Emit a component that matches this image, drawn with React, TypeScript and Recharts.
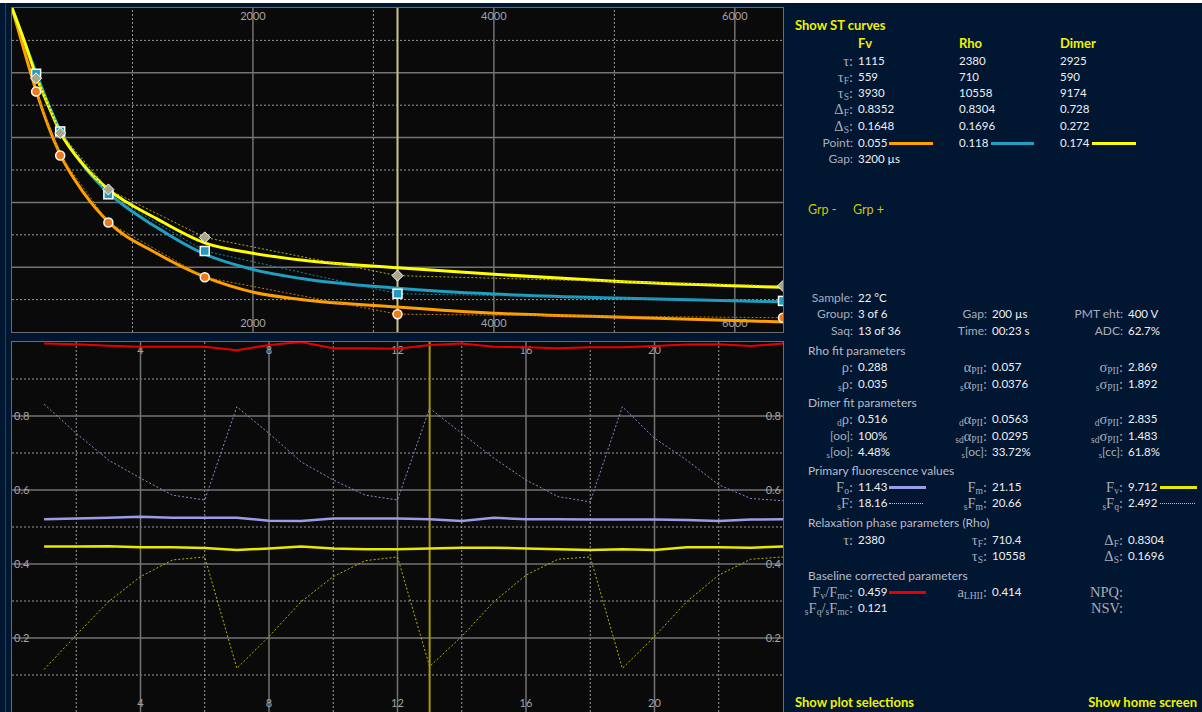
import React from "react";
import { LineChart, Line, XAxis, YAxis, ReferenceLine } from "recharts";

// ---- top chart: single-turnover relaxation curves ----
const fitX = [0, 100, 200, 300, 400, 600, 800, 1200, 1600, 2000, 2400, 3200, 4000, 5000, 6400];
const fvFit = [1.0, 0.87, 0.745, 0.637, 0.548, 0.427, 0.34, 0.243, 0.17, 0.123, 0.1, 0.077, 0.058, 0.046, 0.031];
const rhoFit = [1.0, 0.9, 0.8, 0.705, 0.622, 0.51, 0.43, 0.323, 0.24, 0.193, 0.165, 0.135, 0.117, 0.105, 0.093];
const dimerFit = [1.0, 0.9, 0.79, 0.7, 0.617, 0.513, 0.44, 0.35, 0.275, 0.243, 0.222, 0.198, 0.178, 0.157, 0.138];

const ptX = [200, 400, 800, 1600, 3200, 6400];
const fvPts = [0.742, 0.545, 0.338, 0.169, 0.055, 0.044];
const rhoPts = [0.797, 0.619, 0.425, 0.25, 0.118, 0.096];
const dimerPts = [0.783, 0.614, 0.44, 0.292, 0.174, 0.142];

const topTicks = [2000, 4000, 6000];
const topMinorX = [1000, 3000, 5000];
const topCursor = 3200;

// ---- bottom chart: per-acquisition values ----
const acq = [1, 2, 3, 4, 5, 6, 7, 8, 9, 10, 11, 12, 13, 14, 15, 16, 17, 18, 19, 20, 21, 22, 23, 24];
const fvFm = [0.996, 0.994, 0.99, 0.987, 0.987, 0.987, 0.978, 0.992, 1.0, 0.983, 0.983, 0.982, 0.992, 0.996, 0.987, 0.986, 0.983, 0.986, 0.986, 0.989, 0.993, 0.994, 0.989, 0.996];
const fo = [0.521, 0.523, 0.525, 0.528, 0.525, 0.525, 0.525, 0.517, 0.516, 0.523, 0.523, 0.523, 0.521, 0.516, 0.525, 0.521, 0.521, 0.52, 0.52, 0.52, 0.519, 0.516, 0.52, 0.521];
const fv = [0.447, 0.447, 0.448, 0.445, 0.445, 0.443, 0.438, 0.442, 0.447, 0.442, 0.44, 0.44, 0.442, 0.444, 0.444, 0.442, 0.44, 0.438, 0.44, 0.438, 0.445, 0.445, 0.444, 0.447];
const sF = [0.832, 0.753, 0.681, 0.632, 0.586, 0.573, 0.825, 0.753, 0.676, 0.627, 0.586, 0.573, 0.821, 0.753, 0.686, 0.627, 0.582, 0.568, 0.825, 0.74, 0.681, 0.614, 0.577, 0.571];
const sFq = [0.115, 0.208, 0.298, 0.366, 0.411, 0.419, 0.118, 0.204, 0.298, 0.366, 0.409, 0.419, 0.123, 0.204, 0.298, 0.37, 0.413, 0.419, 0.118, 0.204, 0.298, 0.37, 0.413, 0.419];

const botTicks = [4, 8, 12, 16, 20];
const botMinorX = [2, 6, 10, 14, 18, 22];
const botCursor = 13;

const majorY = [0.2, 0.4, 0.6, 0.8];
const minorY = [0.1, 0.3, 0.5, 0.7, 0.9];

const fitData = fitX.map((x, i) => ({ x, fv: fvFit[i], rho: rhoFit[i], dimer: dimerFit[i] }));
const ptData = ptX.map((x, i) => ({ x, fv: fvPts[i], rho: rhoPts[i], dimer: dimerPts[i] }));
const botData = acq.map((x, i) => ({ x, fvFm: fvFm[i], fo: fo[i], fv: fv[i], sF: sF[i], sFq: sFq[i] }));

const W = 1202;
const NAVY = "#011631";
const PLOT_BG = "#0a0a0a";
const MAJOR = "#737373";
const MINOR = "#9a9a9a";
const TICK = "#a4a4a4";
const SANS = "Lato, 'Open Sans', sans-serif";
const SERIF = "'Liberation Serif', 'DejaVu Serif', serif";
const LBL = "#a6aebb";
const VAL = "#eef0f4";
const HEAD = "#b6bcc8";
const YEL = "#f0f000";

const TOP_W = 771, TOP_H = 324;
const BOT_W = 771, BOT_H = 370;

// tick label drawn at the top and the bottom edge of a vertical grid line
const xLabel = (value: number, h: number) => (p: any) => {
  const vb = p.viewBox || {};
  const x = vb.x ?? 0;
  return (
    <g>
      <text x={x} y={12} textAnchor="middle" fill={TICK} fontSize={11} fontFamily={SANS}>{value}</text>
      <text x={x} y={h - 5} textAnchor="middle" fill={TICK} fontSize={11} fontFamily={SANS}>{value}</text>
    </g>
  );
};

// tick label drawn at the left and the right edge of a horizontal grid line
const yLabel = (value: number, w: number) => (p: any) => {
  const vb = p.viewBox || {};
  const y = vb.y ?? 0;
  return (
    <g>
      <text x={2} y={y + 4} textAnchor="start" fill={TICK} fontSize={11} fontFamily={SANS}>{value}</text>
      <text x={w - 2} y={y + 4} textAnchor="end" fill={TICK} fontSize={11} fontFamily={SANS}>{value}</text>
    </g>
  );
};

const CircleDot = (p: any) => (
  <circle key={`c-${p.index}`} cx={p.cx} cy={p.cy} r={4.5} fill="#f07a1a" stroke="#ffffff" strokeWidth={1.5} />
);
const SquareDot = (p: any) => (
  <rect key={`s-${p.index}`} x={p.cx - 4.5} y={p.cy - 4.5} width={9} height={9} fill="#1f9cbc" stroke="#ffffff" strokeWidth={1.5} />
);
const DiamondDot = (p: any) => (
  <path key={`d-${p.index}`} d={`M${p.cx},${p.cy - 5.5}L${p.cx + 5.5},${p.cy}L${p.cx},${p.cy + 5.5}L${p.cx - 5.5},${p.cy}Z`} fill="#a8a78c" stroke="#ffffff" strokeWidth={1} />
);

function grid(majX: number[], minX: number[], w: number, h: number, yLabels: boolean) {
  return [
    ...minorY.map((v) => <ReferenceLine key={`my${v}`} y={v} stroke={MINOR} strokeDasharray="2 2" strokeWidth={1} />),
    ...minX.map((v) => <ReferenceLine key={`mx${v}`} x={v} stroke={MINOR} strokeDasharray="2 2" strokeWidth={1} />),
    ...majorY.map((v) => (
      <ReferenceLine key={`Y${v}`} y={v} stroke={MAJOR} strokeWidth={1.5} label={yLabels ? yLabel(v, w) : undefined} />
    )),
    ...majX.map((v) => <ReferenceLine key={`X${v}`} x={v} stroke={MAJOR} strokeWidth={1.5} label={xLabel(v, h)} />),
  ];
}

function Txt({ x, y, end, color = VAL, size = 11.5, bold, font = SANS, children }: any) {
  const style: React.CSSProperties = {
    position: "absolute", top: y - 9, height: 18, lineHeight: "18px", fontFamily: font,
    fontSize: size, fontWeight: bold ? 700 : 400, color, whiteSpace: "nowrap",
  };
  if (end) style.right = W - x;
  else style.left = x;
  return <div style={style}>{children}</div>;
}

const Sub = ({ children }: any) => (
  <span style={{ fontSize: "0.66em", position: "relative", top: "0.25em" }}>{children}</span>
);

const L = ({ x, y, serif, children }: any) => (
  <Txt x={x} y={y} end color={LBL} font={serif ? SERIF : SANS} size={serif ? 14.5 : 12}>{children}</Txt>
);

function Swatch({ x1, x2, y, color, dotted }: any) {
  return (
    <div style={{
      position: "absolute", left: x1, top: dotted ? y : y - 1.5, width: x2 - x1,
      height: dotted ? 0 : 3, background: dotted ? "none" : color,
      borderTop: dotted ? `1px dotted ${color}` : "none",
    }} />
  );
}

const C1 = 853, V1 = 858, C2 = 987, V2 = 992, C3 = 1123, V3 = 1128;

export default function App() {
  const rows = [61, 77, 93, 109, 126, 143, 159];
  return (
    <div style={{ position: "absolute", left: 0, top: 0, width: W, height: 712, background: NAVY, overflow: "hidden" }}>
      <div style={{ position: "absolute", left: 0, top: 0, width: W, height: 3, background: "#ffffff" }} />
      <div style={{ position: "absolute", left: 5, top: 3, width: 1, height: 709, background: "#2b3d58" }} />

      {/* top plot */}
      <div style={{ position: "absolute", left: 11, top: 7, width: TOP_W, height: TOP_H, border: "1px solid #6c6c6c", background: PLOT_BG }}>
        <LineChart width={TOP_W} height={TOP_H} margin={{ top: 0, right: 0, bottom: 0, left: 0 }}>
          <XAxis dataKey="x" type="number" domain={[0, 6400]} hide />
          <YAxis type="number" domain={[0, 1]} hide />
          {grid(topTicks, topMinorX, TOP_W, TOP_H, false)}
          <ReferenceLine x={topCursor} stroke="#c9c38f" strokeWidth={2} />
          <Line data={fitData} dataKey="fv" type="monotone" stroke="#ffa000" strokeWidth={3} dot={false} activeDot={false} isAnimationActive={false} />
          <Line data={fitData} dataKey="rho" type="monotone" stroke="#1fa0c2" strokeWidth={3} dot={false} activeDot={false} isAnimationActive={false} />
          <Line data={fitData} dataKey="dimer" type="monotone" stroke="#ffff00" strokeWidth={3} dot={false} activeDot={false} isAnimationActive={false} />
          <Line data={ptData} dataKey="fv" type="linear" stroke="#c07812" strokeWidth={1} strokeDasharray="2 2" dot={CircleDot} activeDot={false} isAnimationActive={false} />
          <Line data={ptData} dataKey="rho" type="linear" stroke="#1a86a4" strokeWidth={1} strokeDasharray="2 2" dot={SquareDot} activeDot={false} isAnimationActive={false} />
          <Line data={ptData} dataKey="dimer" type="linear" stroke="#b0a820" strokeWidth={1} strokeDasharray="2 2" dot={DiamondDot} activeDot={false} isAnimationActive={false} />
        </LineChart>
      </div>

      {/* bottom plot */}
      <div style={{ position: "absolute", left: 11, top: 341, width: BOT_W, height: BOT_H + 2, border: "1px solid #6c6c6c", background: PLOT_BG }}>
        <LineChart width={BOT_W} height={BOT_H} margin={{ top: 0, right: 0, bottom: 0, left: 0 }}>
          <XAxis dataKey="x" type="number" domain={[0, 24]} hide />
          <YAxis type="number" domain={[0, 1]} hide />
          {grid(botTicks, botMinorX, BOT_W, BOT_H, true)}
          <ReferenceLine x={botCursor} stroke="#a89a00" strokeWidth={2} />
          <Line data={botData} dataKey="sF" type="linear" stroke="#8a8acc" strokeWidth={1} strokeDasharray="2 2" dot={false} activeDot={false} isAnimationActive={false} />
          <Line data={botData} dataKey="sFq" type="linear" stroke="#b8b400" strokeWidth={1} strokeDasharray="2 2" dot={false} activeDot={false} isAnimationActive={false} />
          <Line data={botData} dataKey="fo" type="linear" stroke="#9c9ce8" strokeWidth={2.5} dot={false} activeDot={false} isAnimationActive={false} />
          <Line data={botData} dataKey="fv" type="linear" stroke="#e8e800" strokeWidth={2.5} dot={false} activeDot={false} isAnimationActive={false} />
          <Line data={botData} dataKey="fvFm" type="linear" stroke="#e80000" strokeWidth={2} dot={false} activeDot={false} isAnimationActive={false} />
        </LineChart>
      </div>

      {/* right panel: ST curves */}
      <Txt x={795} y={25} color={YEL} bold size={13}>Show ST curves</Txt>
      <Txt x={858} y={43} color={YEL} bold size={13}>Fv</Txt>
      <Txt x={959} y={43} color={YEL} bold size={13}>Rho</Txt>
      <Txt x={1060} y={43} color={YEL} bold size={13}>Dimer</Txt>

      <L x={C1} y={rows[0]} serif>τ:</L>
      <L x={C1} y={rows[1]} serif>τ<Sub>F</Sub>:</L>
      <L x={C1} y={rows[2]} serif>τ<Sub>S</Sub>:</L>
      <L x={C1} y={rows[3]} serif>Δ<Sub>F</Sub>:</L>
      <L x={C1} y={rows[4]} serif>Δ<Sub>S</Sub>:</L>
      <L x={C1} y={rows[5]}>Point:</L>
      <L x={C1} y={rows[6]}>Gap:</L>

      {["1115", "559", "3930", "0.8352", "0.1648", "0.055"].map((v, i) => <Txt key={`a${i}`} x={V1} y={rows[i]}>{v}</Txt>)}
      {["2380", "710", "10558", "0.8304", "0.1696", "0.118"].map((v, i) => <Txt key={`b${i}`} x={959} y={rows[i]}>{v}</Txt>)}
      {["2925", "590", "9174", "0.728", "0.272", "0.174"].map((v, i) => <Txt key={`c${i}`} x={1060} y={rows[i]}>{v}</Txt>)}
      <Txt x={V1} y={rows[6]}>3200 µs</Txt>
      <Swatch x1={889} x2={933} y={143} color="#ffa000" />
      <Swatch x1={991} x2={1034} y={143} color="#1fa0c2" />
      <Swatch x1={1092} x2={1136} y={143} color="#ffff00" />

      <Txt x={808} y={210} color="#c8c800" size={12.5}>Grp -</Txt>
      <Txt x={853} y={210} color="#c8c800" size={12.5}>Grp +</Txt>

      {/* sample info */}
      <L x={C1} y={298}>Sample:</L><Txt x={V1} y={298}>22 °C</Txt>
      <L x={C1} y={314}>Group:</L><Txt x={V1} y={314}>3 of 6</Txt>
      <L x={C2} y={314}>Gap:</L><Txt x={V2} y={314}>200 µs</Txt>
      <L x={C3} y={314}>PMT eht:</L><Txt x={V3} y={314}>400 V</Txt>
      <L x={C1} y={331}>Saq:</L><Txt x={V1} y={331}>13 of 36</Txt>
      <L x={C2} y={331}>Time:</L><Txt x={V2} y={331}>00:23 s</Txt>
      <L x={C3} y={331}>ADC:</L><Txt x={V3} y={331}>62.7%</Txt>

      <Txt x={808} y={351} color={HEAD} size={12}>Rho fit parameters</Txt>
      <L x={C1} y={367} serif>ρ:</L><Txt x={V1} y={367}>0.288</Txt>
      <L x={C2} y={367} serif>α<Sub>PII</Sub>:</L><Txt x={V2} y={367}>0.057</Txt>
      <L x={C3} y={367} serif>σ<Sub>PII</Sub>:</L><Txt x={V3} y={367}>2.869</Txt>
      <L x={C1} y={384} serif><Sub>s</Sub>ρ:</L><Txt x={V1} y={384}>0.035</Txt>
      <L x={C2} y={384} serif><Sub>s</Sub>α<Sub>PII</Sub>:</L><Txt x={V2} y={384}>0.0376</Txt>
      <L x={C3} y={384} serif><Sub>s</Sub>σ<Sub>PII</Sub>:</L><Txt x={V3} y={384}>1.892</Txt>

      <Txt x={808} y={403} color={HEAD} size={12}>Dimer fit parameters</Txt>
      <L x={C1} y={419} serif><Sub>d</Sub>ρ:</L><Txt x={V1} y={419}>0.516</Txt>
      <L x={C2} y={419} serif><Sub>d</Sub>α<Sub>PII</Sub>:</L><Txt x={V2} y={419}>0.0563</Txt>
      <L x={C3} y={419} serif><Sub>d</Sub>σ<Sub>PII</Sub>:</L><Txt x={V3} y={419}>2.835</Txt>
      <L x={C1} y={436}>[oo]:</L><Txt x={V1} y={436}>100%</Txt>
      <L x={C2} y={436} serif><Sub>sd</Sub>α<Sub>PII</Sub>:</L><Txt x={V2} y={436}>0.0295</Txt>
      <L x={C3} y={436} serif><Sub>sd</Sub>σ<Sub>PII</Sub>:</L><Txt x={V3} y={436}>1.483</Txt>
      <L x={C1} y={452}><Sub>s</Sub>[oo]:</L><Txt x={V1} y={452}>4.48%</Txt>
      <L x={C2} y={452}><Sub>s</Sub>[oc]:</L><Txt x={V2} y={452}>33.72%</Txt>
      <L x={C3} y={452}><Sub>s</Sub>[cc]:</L><Txt x={V3} y={452}>61.8%</Txt>

      <Txt x={808} y={471} color={HEAD} size={12}>Primary fluorescence values</Txt>
      <L x={C1} y={487} serif>F<Sub>o</Sub>:</L><Txt x={V1} y={487}>11.43</Txt>
      <Swatch x1={889} x2={926} y={487} color="#9c9ce8" />
      <L x={C2} y={487} serif>F<Sub>m</Sub>:</L><Txt x={V2} y={487}>21.15</Txt>
      <L x={C3} y={487} serif>F<Sub>v</Sub>:</L><Txt x={V3} y={487}>9.712</Txt>
      <Swatch x1={1160} x2={1197} y={487} color="#e8e800" />
      <L x={C1} y={503} serif><Sub>s</Sub>F:</L><Txt x={V1} y={503}>18.16</Txt>
      <Swatch x1={889} x2={923} y={503} color="#c8c8e8" dotted />
      <L x={C2} y={503} serif><Sub>s</Sub>F<Sub>m</Sub>:</L><Txt x={V2} y={503}>20.66</Txt>
      <L x={C3} y={503} serif><Sub>s</Sub>F<Sub>q</Sub>:</L><Txt x={V3} y={503}>2.492</Txt>
      <Swatch x1={1160} x2={1195} y={503} color="#d8d800" dotted />

      <Txt x={808} y={523} color={HEAD} size={12}>Relaxation phase parameters (Rho)</Txt>
      <L x={C1} y={540} serif>τ:</L><Txt x={V1} y={540}>2380</Txt>
      <L x={C2} y={540} serif>τ<Sub>F</Sub>:</L><Txt x={V2} y={540}>710.4</Txt>
      <L x={C3} y={540} serif>Δ<Sub>F</Sub>:</L><Txt x={V3} y={540}>0.8304</Txt>
      <L x={C2} y={556} serif>τ<Sub>S</Sub>:</L><Txt x={V2} y={556}>10558</Txt>
      <L x={C3} y={556} serif>Δ<Sub>S</Sub>:</L><Txt x={V3} y={556}>0.1696</Txt>

      <Txt x={808} y={576} color={HEAD} size={12}>Baseline corrected parameters</Txt>
      <L x={C1} y={592} serif>F<Sub>v</Sub>/F<Sub>mc</Sub>:</L><Txt x={V1} y={592}>0.459</Txt>
      <Swatch x1={889} x2={926} y={592} color="#e80000" />
      <L x={C2} y={592} serif>a<Sub>LHII</Sub>:</L><Txt x={V2} y={592}>0.414</Txt>
      <L x={C3} y={592} serif>NPQ:</L>
      <L x={C1} y={608} serif><Sub>s</Sub>F<Sub>q</Sub>/<Sub>s</Sub>F<Sub>mc</Sub>:</L><Txt x={V1} y={608}>0.121</Txt>
      <L x={C3} y={608} serif>NSV:</L>

      <Txt x={795} y={702} color={YEL} bold size={13}>Show plot selections</Txt>
      <Txt x={1197} y={702} end color={YEL} bold size={13}>Show home screen</Txt>
    </div>
  );
}
